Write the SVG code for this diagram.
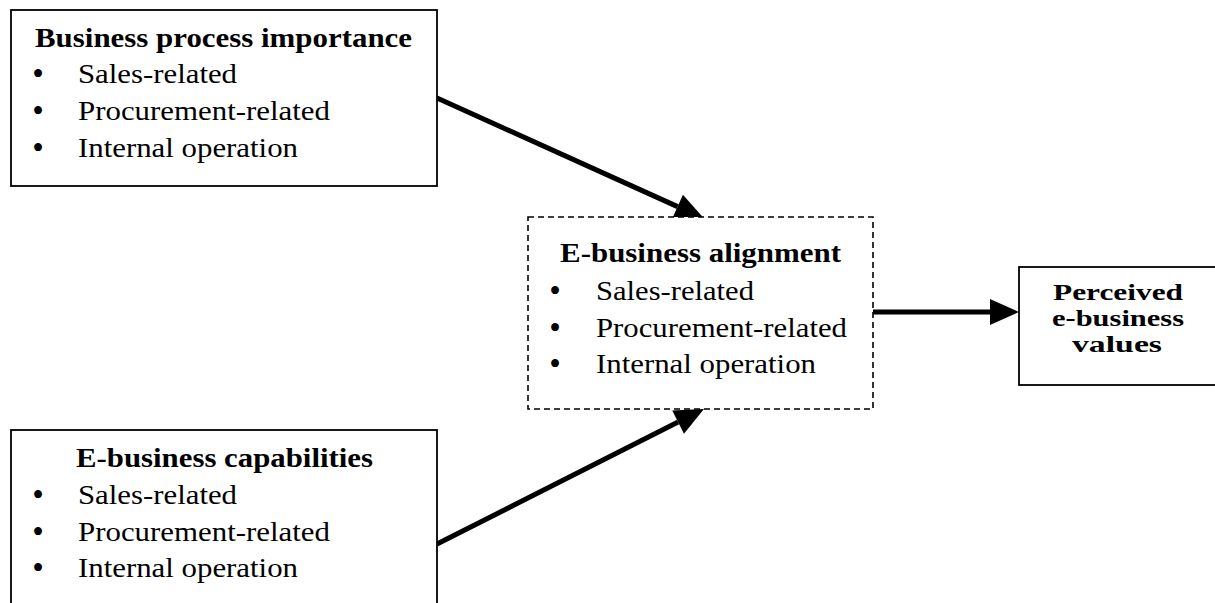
<svg xmlns="http://www.w3.org/2000/svg" width="1215" height="603" viewBox="0 0 1215 603">
<style>
  text { fill: #000; }
  .t { font-size: 27px; font-weight: bold; }
  .p { font-size: 23px; font-weight: bold; }
  .i { font-size: 27px; }
  .b { font-size: 33px; }
  .box { fill: #fff; stroke: #000; stroke-width: 1.8; }
  .dash { fill: #fff; stroke: #000; stroke-width: 1.6; stroke-dasharray: 6 4; }
  .conn { stroke: #000; stroke-width: 5; fill: none; marker-end: url(#ah); }
</style>
<defs>
  <marker id="ah" markerUnits="userSpaceOnUse" markerWidth="30" markerHeight="28" refX="0" refY="13" orient="auto" overflow="visible">
    <path d="M0,0 L29,13 L0,26 Z" fill="#000"/>
  </marker>
</defs>
<rect width="1215" height="603" fill="#fff"/>
<g id="connectors">
  <line class="conn" x1="437" y1="98" x2="677.6" y2="206.6"/>
  <line class="conn" x1="437" y1="544" x2="678.1" y2="422.1"/>
  <line class="conn" x1="873" y1="312" x2="990" y2="312"/>
</g>
<g id="business-process-importance">
  <rect class="box" x="11" y="10" width="426" height="176"/>
  <text class="t" font-family="Liberation Serif" x="35" y="47" textLength="377" lengthAdjust="spacingAndGlyphs">Business process importance</text>
  <text class="b" font-family="Liberation Serif" x="38" y="85" text-anchor="middle">•</text>
  <text class="i" font-family="Liberation Serif" x="78" y="83" textLength="159" lengthAdjust="spacingAndGlyphs">Sales-related</text>
  <text class="b" font-family="Liberation Serif" x="38" y="122" text-anchor="middle">•</text>
  <text class="i" font-family="Liberation Serif" x="78" y="120" textLength="252" lengthAdjust="spacingAndGlyphs">Procurement-related</text>
  <text class="b" font-family="Liberation Serif" x="38" y="159" text-anchor="middle">•</text>
  <text class="i" font-family="Liberation Serif" x="78" y="157" textLength="220" lengthAdjust="spacingAndGlyphs">Internal operation</text>
</g>
<g id="e-business-capabilities">
  <rect class="box" x="11" y="430" width="426" height="190"/>
  <text class="t" font-family="Liberation Serif" x="76" y="467" textLength="297" lengthAdjust="spacingAndGlyphs">E-business capabilities</text>
  <text class="b" font-family="Liberation Serif" x="38" y="506" text-anchor="middle">•</text>
  <text class="i" font-family="Liberation Serif" x="78" y="504" textLength="159" lengthAdjust="spacingAndGlyphs">Sales-related</text>
  <text class="b" font-family="Liberation Serif" x="38" y="543" text-anchor="middle">•</text>
  <text class="i" font-family="Liberation Serif" x="78" y="541" textLength="252" lengthAdjust="spacingAndGlyphs">Procurement-related</text>
  <text class="b" font-family="Liberation Serif" x="38" y="579" text-anchor="middle">•</text>
  <text class="i" font-family="Liberation Serif" x="78" y="577" textLength="220" lengthAdjust="spacingAndGlyphs">Internal operation</text>
</g>
<g id="e-business-alignment">
  <rect class="dash" x="528" y="217" width="345" height="192"/>
  <text class="t" font-family="Liberation Serif" x="560" y="262" textLength="281" lengthAdjust="spacingAndGlyphs">E-business alignment</text>
  <text class="b" font-family="Liberation Serif" x="555" y="302" text-anchor="middle">•</text>
  <text class="i" font-family="Liberation Serif" x="596" y="300" textLength="158" lengthAdjust="spacingAndGlyphs">Sales-related</text>
  <text class="b" font-family="Liberation Serif" x="555" y="339" text-anchor="middle">•</text>
  <text class="i" font-family="Liberation Serif" x="596" y="337" textLength="251" lengthAdjust="spacingAndGlyphs">Procurement-related</text>
  <text class="b" font-family="Liberation Serif" x="555" y="375" text-anchor="middle">•</text>
  <text class="i" font-family="Liberation Serif" x="596" y="373" textLength="220" lengthAdjust="spacingAndGlyphs">Internal operation</text>
</g>
<g id="perceived-values">
  <rect class="box" x="1019" y="267" width="220" height="118"/>
  <text class="p" font-family="Liberation Serif" x="1118" y="300" text-anchor="middle" textLength="130" lengthAdjust="spacingAndGlyphs">Perceived</text>
  <text class="p" font-family="Liberation Serif" x="1118" y="326" text-anchor="middle" textLength="132" lengthAdjust="spacingAndGlyphs">e-business</text>
  <text class="p" font-family="Liberation Serif" x="1117" y="352" text-anchor="middle" textLength="90" lengthAdjust="spacingAndGlyphs">values</text>
</g>
</svg>
